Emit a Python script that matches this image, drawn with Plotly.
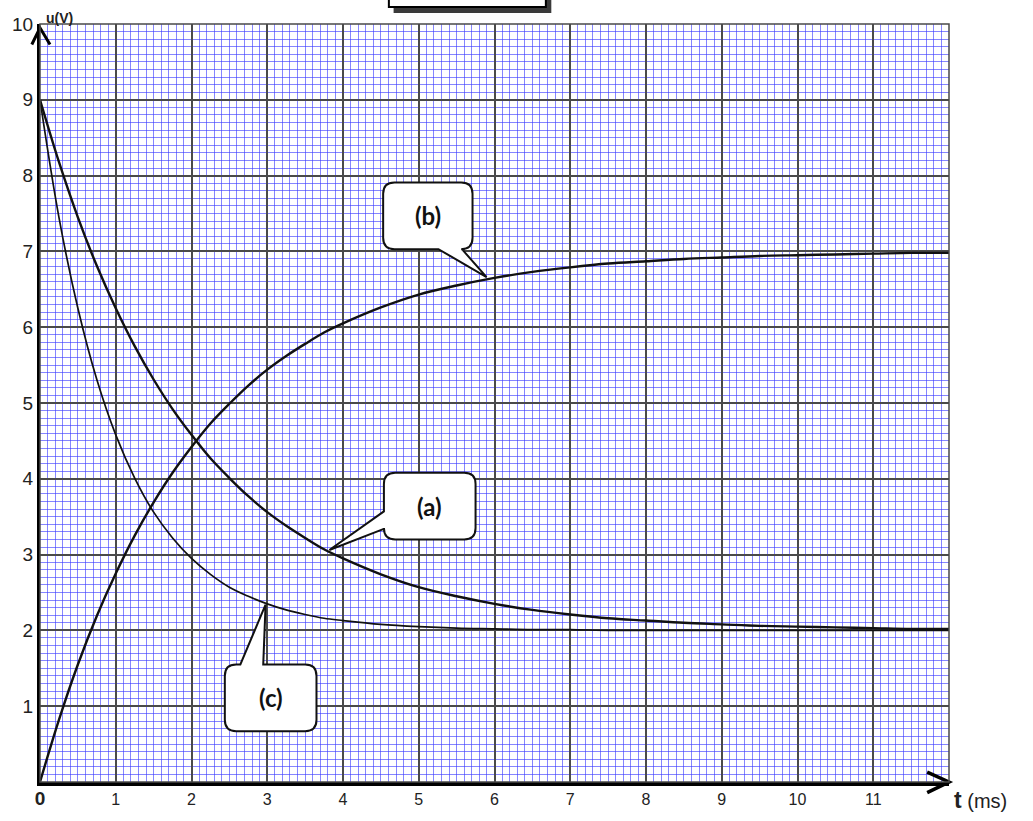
import plotly.graph_objects as go

# values (t in ms, u in V)
t_ms = [0, 0.25, 0.5, 0.75, 1, 1.25, 1.5, 1.75, 2, 2.25, 2.5, 2.75, 3, 3.25, 3.5, 3.75, 4,
        4.5, 5, 5.5, 6, 6.5, 7, 7.5, 8, 8.5, 9, 9.5, 10, 10.5, 11, 11.5, 12]
u_a = [9.00, 8.18, 7.45, 6.81, 6.25, 5.75, 5.31, 4.92, 4.58, 4.27, 4.01, 3.77, 3.56, 3.38, 3.22, 3.07, 2.95,
       2.74, 2.57, 2.45, 2.35, 2.27, 2.21, 2.16, 2.13, 2.10, 2.08, 2.06, 2.05, 2.04, 2.03, 2.02, 2.02]
u_b = [0.00, 0.82, 1.55, 2.19, 2.75, 3.25, 3.69, 4.08, 4.42, 4.73, 4.99, 5.23, 5.44, 5.62, 5.78, 5.93, 6.05,
       6.26, 6.43, 6.55, 6.65, 6.73, 6.79, 6.84, 6.87, 6.90, 6.92, 6.94, 6.95, 6.96, 6.97, 6.98, 6.98]
u_c = [9.00, 7.45, 6.25, 5.31, 4.58, 4.01, 3.56, 3.22, 2.95, 2.74, 2.57, 2.45, 2.35, 2.27, 2.21, 2.16, 2.13,
       2.08, 2.05, 2.03, 2.02, 2.01, 2.01, 2.00, 2.00, 2.00, 2.00, 2.00, 2.00, 2.00, 2.00, 2.00, 2.00]

x_ticks = [0, 1, 2, 3, 4, 5, 6, 7, 8, 9, 10, 11]
x_ticktext = ['<b><span style="font-size:19px">0</span></b>'] + [str(v) for v in x_ticks[1:]]
y_ticks = [1, 2, 3, 4, 5, 6, 7, 8, 9, 10]

T_MAX, U_MAX = 12, 10
MINOR_BLUE = 'rgba(60,60,255,0.62)'
MAJOR = '#4a4a4a'


def bubble(x0, x1, yb, yt, r, side, b1, b2, tip):
    """Rounded speech bubble path (data coords) with a tail on one side."""
    tx, ty = tip
    top = right = bottom = left = ''
    if side == 'top':
        top = f' L {b1},{yt} L {tx},{ty} L {b2},{yt}'
    elif side == 'bottom':
        bottom = f' L {b2},{yb} L {tx},{ty} L {b1},{yb}'
    elif side == 'left':
        left = f' L {x0},{b1} L {tx},{ty} L {x0},{b2}'
    p = (f'M {x0 + r},{yt}' + top +
         f' L {x1 - r},{yt} Q {x1},{yt} {x1},{yt - r}' + right +
         f' L {x1},{yb + r} Q {x1},{yb} {x1 - r},{yb}' + bottom +
         f' L {x0 + r},{yb} Q {x0},{yb} {x0},{yb + r}' + left +
         f' L {x0},{yt - r} Q {x0},{yt} {x0 + r},{yt} Z')
    return p


def to_paper(t, u):
    return t / T_MAX, u / U_MAX


fig = go.Figure()
for name, vals, w in [('(a)', u_a, 2.4), ('(b)', u_b, 2.4), ('(c)', u_c, 1.7)]:
    fig.add_trace(go.Scatter(x=t_ms, y=vals, mode='lines', name=name,
                             line=dict(color='#111111', width=w, shape='spline', smoothing=1),
                             hoverinfo='x+y'))

shapes = []
# speech bubbles
for path in [bubble(4.53, 5.71, 7.03, 7.91, 0.15, 'bottom', 5.26, 5.57, (5.895, 6.66)),
             bubble(4.54, 5.75, 3.20, 4.08, 0.15, 'left', 3.34, 3.57, (3.82, 3.06)),
             bubble(2.44, 3.65, 0.67, 1.55, 0.15, 'top', 2.645, 2.947, (2.978, 2.34))]:
    shapes.append(dict(type='path', path=path, xref='x', yref='y', fillcolor='white',
                       line=dict(color='#111111', width=2), layer='above'))

# axis arrow heads (paper coords, so they are not clipped)
tx, ty = to_paper(12, 0)
shapes.append(dict(type='path', xref='paper', yref='paper',
                   path=f'M {tx - 0.024},{ty + 0.013} L {tx},{ty} L {tx - 0.024},{ty - 0.014}',
                   line=dict(color='black', width=3.5)))
ax_, ay_ = to_paper(0, 9.95)
shapes.append(dict(type='path', xref='paper', yref='paper',
                   path=f'M {ax_ - 0.009},{ay_ - 0.022} L {ax_},{ay_} L {ax_ + 0.011},{ay_ - 0.022}',
                   line=dict(color='black', width=3)))
# right / top border
shapes.append(dict(type='rect', xref='paper', yref='paper', x0=0, x1=1, y0=0, y1=1,
                   line=dict(color=MAJOR, width=1.5), layer='above'))
# box cut off at the top of the page (with shadow)
shapes.append(dict(type='rect', xref='paper', yref='paper', x0=0.389, x1=0.5625, y0=1.0145, y1=1.08,
                   fillcolor='#3a3a3a', line=dict(width=0)))
shapes.append(dict(type='rect', xref='paper', yref='paper', x0=0.3838, x1=0.5565, y0=1.0224, y1=1.09,
                   fillcolor='white', line=dict(color='black', width=2)))

bub_font = dict(size=24, color='#111', family='Lato')
annotations = [
    dict(x=5.12, y=7.47, text='<b>(b)</b>', showarrow=False, font=bub_font),
    dict(x=5.145, y=3.64, text='<b>(a)</b>', showarrow=False, font=bub_font),
    dict(x=3.045, y=1.11, text='<b>(c)</b>', showarrow=False, font=bub_font),
    dict(xref='paper', yref='paper', x=0.004, y=0.995, xanchor='left', yanchor='bottom',
         text='<b>u(V)</b>', showarrow=False, font=dict(size=14, color='#222')),
    dict(xref='paper', yref='paper', x=1.003, y=-0.004, xanchor='left', yanchor='top',
         text='<b><span style="font-size:23px">t</span></b><span style="font-size:20px"> (ms)</span>',
         showarrow=False, font=dict(size=20, color='#222')),
]

fig.update_layout(
    width=1033, height=821,
    margin=dict(l=37, r=84, t=24, b=37),
    paper_bgcolor='white', plot_bgcolor='white',
    font=dict(family='Liberation Sans, Arial, sans-serif', color='#222'),
    showlegend=False,
    shapes=shapes, annotations=annotations,
    xaxis=dict(range=[0, T_MAX], tickvals=x_ticks, ticktext=x_ticktext, ticks='',
               showgrid=True, gridcolor=MAJOR, gridwidth=1.5, zeroline=False,
               showline=True, linecolor='black', linewidth=3.5,
               tickfont=dict(size=16, color='#222'),
               minor=dict(dtick=0.1, showgrid=True, gridcolor=MINOR_BLUE, gridwidth=1)),
    yaxis=dict(range=[0, U_MAX], tickvals=y_ticks, ticks='',
               showgrid=True, gridcolor=MAJOR, gridwidth=1.5, zeroline=False,
               showline=True, linecolor='black', linewidth=3,
               tickfont=dict(size=19, color='#222'),
               minor=dict(dtick=0.1, showgrid=True, gridcolor=MINOR_BLUE, gridwidth=1)),
)

# drop the default page margin so the figure sits at the window's top-left corner
fig.write_html("out.html", config={'displayModeBar': False},
               post_script="document.body.style.margin='0';")
